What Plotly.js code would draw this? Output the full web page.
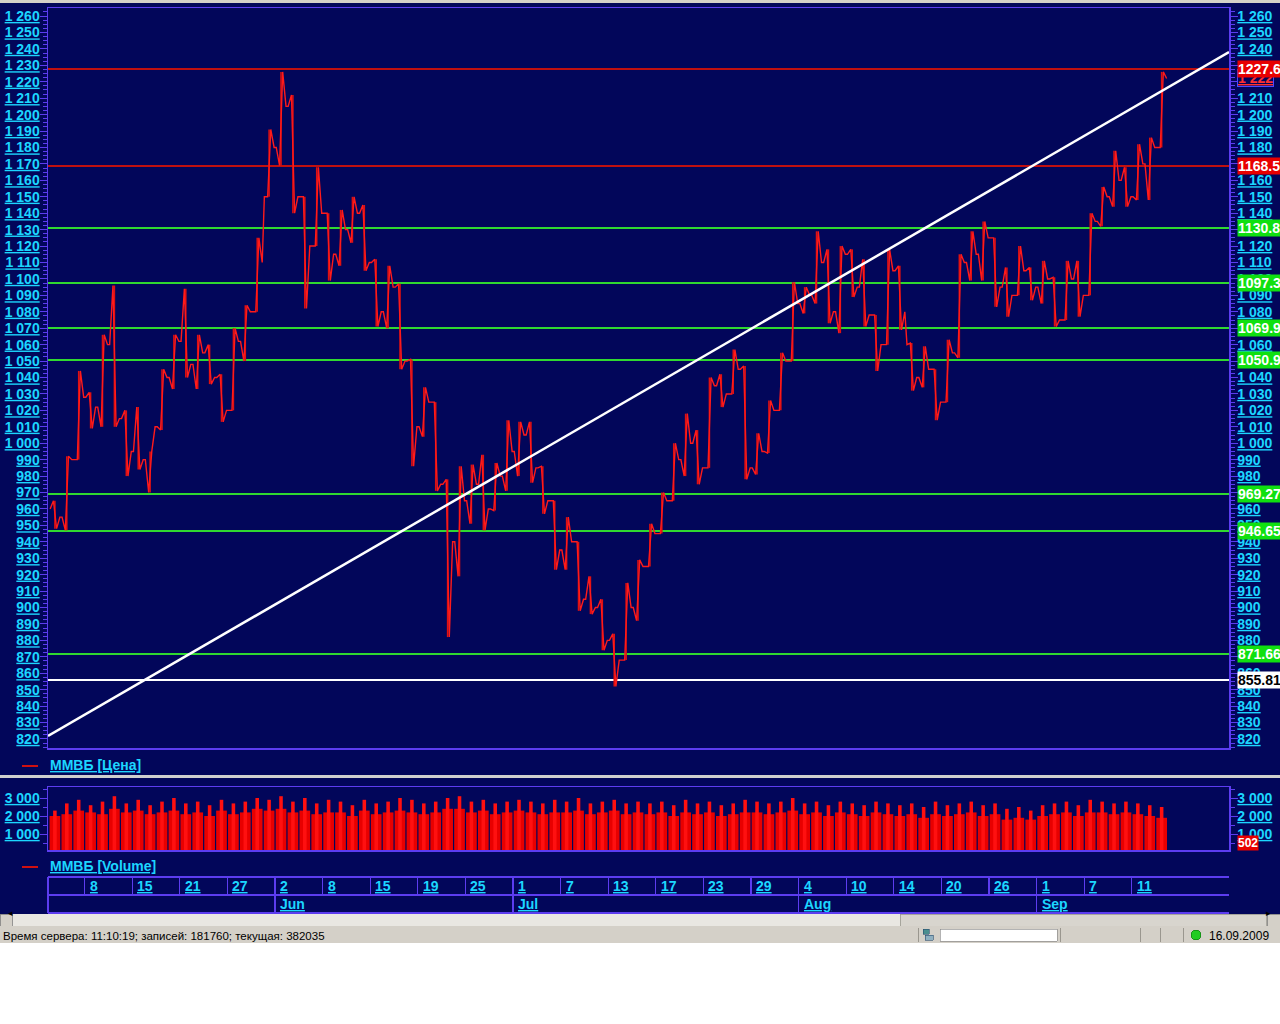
<!DOCTYPE html>
<html><head><meta charset="utf-8">
<script src="https://cdn.plot.ly/plotly-3.0.1.min.js"></script>
<style>html,body{margin:0;padding:0;background:#fff;overflow:hidden}#chart{width:1280px;height:1024px}
#chart .shapelayer path{shape-rendering:crispEdges}</style>
</head><body><div id="chart"></div>
<script>
// ---------------- DATA (trading-day index 0 = 5 May 2009) ----------------
const openP  = [960,955,990,1028,1022,1060,1015,995,990,1010,1040,1062,1048,1055,1040,1020,1062,1080,1150,1180,1205,1150,1120,1140,1115,1130,1140,1110,1080,1095,1050,1010,1025,975,940,965,975,960,980,995,1005,985,965,935,940,905,900,880,868,900,925,945,965,990,1000,985,1035,1030,1045,985,995,1020,1050,1085,1090,1110,1080,1115,1095,1078,1060,1105,1060,1040,1045,1025,1055,1110,1115,1125,1095,1090,1105,1095,1100,1075,1100,1090,1135,1150,1160,1150,1170,1180];
const highP  = [965,992,1044,1031,1066,1096,1020,1022,995,1045,1066,1094,1066,1060,1042,1070,1084,1125,1191,1226,1212,1150,1168,1140,1142,1150,1145,1112,1108,1097,1051,1034,1025,978,986,987,993,988,1014,1013,1013,986,965,955,940,919,905,884,915,929,951,970,1000,1018,1008,1040,1042,1057,1047,1006,1026,1055,1098,1095,1129,1118,1120,1118,1112,1078,1118,1108,1061,1059,1045,1063,1115,1129,1135,1125,1107,1120,1107,1111,1101,1111,1111,1140,1156,1178,1168,1182,1186,1226];
const lowP   = [948,947,990,1009,1010,1010,980,984,970,1008,1033,1040,1033,1036,1013,1020,1050,1080,1150,1169,1140,1082,1120,1099,1108,1122,1105,1071,1070,1045,986,1004,971,882,919,951,947,959,971,980,976,957,923,923,898,896,874,852,868,892,925,945,965,980,975,985,1022,1030,978,981,994,1020,1050,1079,1085,1073,1067,1089,1071,1044,1060,1069,1032,1034,1014,1025,1052,1099,1099,1083,1077,1090,1087,1085,1071,1075,1077,1090,1132,1144,1144,1148,1148,1180];
const closeP = [955,990,1028,1022,1060,1015,995,990,1010,1040,1062,1048,1055,1040,1020,1062,1080,1110,1180,1205,1150,1120,1140,1115,1130,1140,1110,1080,1095,1050,1010,1025,975,940,965,975,960,980,995,1005,985,965,935,940,905,900,880,868,900,925,945,965,990,1000,985,1035,1030,1045,985,995,1020,1050,1085,1090,1110,1080,1115,1095,1078,1060,1105,1080,1040,1045,1025,1055,1110,1115,1125,1095,1090,1105,1095,1100,1075,1100,1090,1135,1150,1160,1150,1170,1180,1222];
const volPeak = [2300,2700,2900,2600,2800,3100,2700,2900,2600,2800,3000,2700,2800,2600,2900,2700,2800,3000,2900,3100,2800,3000,2700,2900,2800,2600,2900,2700,2800,3000,2900,2700,2800,3000,3100,2800,2900,2700,2800,2900,2800,2700,2900,2800,3000,2700,2800,2900,2700,2800,2700,2800,2600,2900,2700,2800,2600,2700,2900,2800,2700,2800,3000,2700,2800,2600,2800,2700,2600,2800,2700,2600,2700,2500,2800,2600,2700,2800,2600,2700,2400,2500,2300,2600,2700,2800,2600,2900,2800,2700,2800,2700,2600,2500];
const volBase = [2000,2100,2300,2200,2100,2400,2200,2300,2100,2200,2300,2100,2200,2000,2300,2100,2200,2400,2300,2400,2200,2300,2100,2200,2200,2000,2300,2100,2200,2300,2200,2100,2200,2400,2400,2200,2300,2100,2200,2300,2200,2100,2200,2200,2300,2100,2200,2300,2100,2200,2100,2200,2000,2200,2100,2200,2000,2100,2200,2200,2100,2200,2300,2100,2200,2000,2200,2100,2000,2200,2100,2000,2100,1900,2100,2000,2100,2200,2000,2100,1800,1900,1800,2000,2100,2200,2000,2200,2200,2100,2200,2100,2000,1900];
const trendX = [-0.08, 99.16];
const trendY = [821.8, 1238.1];
const redLevels   = [1227.6, 1168.5];
const redLabels   = ["1227.6", "1168.5"];
const greenLevels = [1130.8, 1097.3, 1069.9, 1050.9, 969.27, 946.65, 871.66];
const greenLabels = ["1130.8", "1097.3", "1069.9", "1050.9", "969.27", "946.65", "871.66"];
const whiteLevels = [855.81];
const whiteLabels = ["855.81"];
const lastPrice = 1222, lastPriceLabel = "1 222";
const lastVolume = 502, lastVolumeLabel = "502";
const dayLabels   = ["8","15","21","27","2","8","15","19","25","1","7","13","17","23","29","4","10","14","20","26","1","7","11"];
const dayLabelIdx = [3,7,11,15,19,23,27,31,35,39,43,47,51,55,59,63,67,71,75,79,83,87,91];
const monthLabels = ["Jun","Jul","Aug","Sep"];
const monthIdx    = [19,39,63,83];
const priceTicks  = [820,830,840,850,860,870,880,890,900,910,920,930,940,950,960,970,980,990,1000,1010,1020,1030,1040,1050,1060,1070,1080,1090,1100,1110,1120,1130,1140,1150,1160,1170,1180,1190,1200,1210,1220,1230,1240,1250,1260];
const rightHiddenTicks = [1230,1220,1170,1130,1070,1050,970,870];   // covered by the value tags
const volTicks    = [1000,2000,3000];
const statusText  = "Время сервера: 11:10:19; записей: 181760; текущая: 382035";
const statusDate  = "16.09.2009";
const priceLegend = "ММВБ [Цена]";
const volLegend   = "ММВБ [Volume]";

// ---------------- STYLE ----------------
const NAVY = '#02065a', PURPLE = '#5c3cf0', CYAN = '#1cd6ff', RED = '#ff1a1a';
const FONT = 'Liberation Sans, Arial, sans-serif';
const H = 1024, L = 48, R = 1229, PW = R - L;
const xp = px => (px - L) / PW;
const yp = py => 1 - py / H;
const fmt = v => { const s = String(v); return s.length > 3 ? s.slice(0, s.length - 3) + ' ' + s.slice(-3) : s; };

// price zigzag built from the daily OHLC arrays
const px = [], py = [];
openP.forEach((o, i) => {
  const up = closeP[i] >= o;
  px.push(i + 0.1, i + 0.38, i + 0.64, i + 0.92);
  py.push(o, up ? lowP[i] : highP[i], up ? highP[i] : lowP[i], closeP[i]);
});
const dayX = openP.map((_, i) => i + 0.5);
const dayRange = highP.map((h, i) => h - lowP[i]);

const traces = [
  {x: dayX, y: volBase, type: 'bar', xaxis: 'x2', yaxis: 'y3', width: 0.9, marker: {color: '#e80000', line: {width: 0}}, hoverinfo: 'skip'},
  {x: dayX, y: volPeak, type: 'bar', xaxis: 'x2', yaxis: 'y3', width: 0.3, marker: {color: '#ff1010', line: {width: 0}}, hoverinfo: 'skip'},
  {x: [0, 99], y: [1000, 1000], xaxis: 'x2', yaxis: 'y4', mode: 'lines', line: {width: 0}, hoverinfo: 'skip'},
  {x: dayX, y: dayRange, base: lowP, type: 'bar', xaxis: 'x', yaxis: 'y', width: 0.13, marker: {color: '#e01010', line: {width: 0}}, hoverinfo: 'skip'},
  {x: px, y: py, type: 'scatter', mode: 'lines', xaxis: 'x', yaxis: 'y', line: {color: RED, width: 1.4}, hoverinfo: 'skip'},
  {x: trendX, y: trendY, type: 'scatter', mode: 'lines', xaxis: 'x', yaxis: 'y2', line: {color: '#ffffff', width: 2.5}, hoverinfo: 'skip'}
];

const tickFont = {family: FONT, size: 14, color: CYAN, weight: 700, lineposition: 'under'};
const priceAxis = (side, labels, extra) => Object.assign({
  range: [814.5, 1264.9], tickmode: 'array', tickvals: priceTicks, ticktext: labels,
  ticks: 'outside', ticklen: 7, tickcolor: PURPLE, tickwidth: 1, tickfont: tickFont, ticklabelstandoff: -3,
  minor: {tickmode: 'linear', tick0: 0, dtick: 2.5, ticks: 'outside', ticklen: 4, tickcolor: PURPLE, showgrid: false},
  showgrid: false, zeroline: false, showline: true, linecolor: PURPLE, linewidth: 1.5,
  side: side, automargin: false, domain: [yp(748), yp(8)], fixedrange: true
}, extra);
const volAxis = (side, extra) => Object.assign({
  range: [111, 3611], tickmode: 'array', tickvals: volTicks, ticktext: volTicks.map(fmt),
  ticks: 'outside', ticklen: 7, tickcolor: PURPLE, tickfont: tickFont, ticklabelstandoff: -3,
  minor: {tickmode: 'linear', tick0: 0, dtick: 500, ticks: 'outside', ticklen: 4, tickcolor: PURPLE},
  showgrid: false, zeroline: false, showline: true, linecolor: PURPLE, linewidth: 1.5,
  side: side, automargin: false, domain: [yp(850), yp(787)], fixedrange: true
}, extra);

const shapes = [];
const ann = [];
// level lines
redLevels.forEach(v => shapes.push({type: 'line', layer: 'below', xref: 'paper', yref: 'y', x0: 0, x1: 1, y0: v, y1: v, line: {color: '#c01010', width: 2}}));
greenLevels.forEach(v => shapes.push({type: 'line', layer: 'below', xref: 'paper', yref: 'y', x0: 0, x1: 1, y0: v, y1: v, line: {color: '#30d830', width: 2}}));
whiteLevels.forEach(v => shapes.push({type: 'line', layer: 'below', xref: 'paper', yref: 'y', x0: 0, x1: 1, y0: v, y1: v, line: {color: '#ffffff', width: 2.5}}));

// right-side tags
const tagX = xp(1237);
ann.push({xref: 'paper', yref: 'y', x: tagX, y: lastPrice, xanchor: 'left', yanchor: 'middle', text: lastPriceLabel, showarrow: false,
  font: {family: FONT, size: 14, color: '#ff3030', weight: 700, lineposition: 'under'}, bgcolor: NAVY, bordercolor: '#4848ff', borderwidth: 1, borderpad: 0});
const tag = (v, t, bg, fc) => ann.push({xref: 'paper', yref: 'y', x: tagX, y: v, xanchor: 'left', yanchor: 'middle', text: t, showarrow: false,
  font: {family: FONT, size: 14, color: fc, weight: 700}, bgcolor: bg, borderpad: 0});
redLevels.forEach((v, i) => tag(v, redLabels[i], '#e80000', '#ffffff'));
greenLevels.forEach((v, i) => tag(v, greenLabels[i], '#10e010', '#ffffff'));
whiteLevels.forEach((v, i) => tag(v, whiteLabels[i], '#ffffff', '#000000'));
ann.push({xref: 'paper', yref: 'y3', x: tagX, y: lastVolume, xanchor: 'left', yanchor: 'middle', text: lastVolumeLabel, showarrow: false,
  font: {family: FONT, size: 12, color: '#ffffff', weight: 700}, bgcolor: '#e80000', borderpad: 0});

// legends
const legend = (py0, text) => {
  shapes.push({type: 'line', xref: 'paper', yref: 'paper', x0: xp(22), x1: xp(38), y0: yp(py0 + 1), y1: yp(py0 + 1), line: {color: '#d01010', width: 1.5}});
  ann.push({xref: 'paper', yref: 'paper', x: 0, y: yp(py0), xanchor: 'left', yanchor: 'middle', text: text, showarrow: false,
    font: {family: FONT, size: 14, color: CYAN, weight: 700, lineposition: 'under'}});
};
legend(765, priceLegend);
legend(866, volLegend);

// separator bar between panels
shapes.push({type: 'rect', xref: 'paper', yref: 'paper', x0: xp(0), x1: xp(1280), y0: yp(777.5), y1: yp(774.5), fillcolor: '#cfcfcf', line: {width: 0}});
// top strip
shapes.push({type: 'rect', xref: 'paper', yref: 'paper', x0: xp(0), x1: xp(1280), y0: yp(3), y1: yp(0), fillcolor: '#d4d0c8', line: {width: 0}});

// date table
const tl = (x0, x1, y0, y1, xref) => shapes.push({type: 'line', xref: xref || 'paper', yref: 'paper', x0: x0, x1: x1, y0: yp(y0), y1: yp(y1), line: {color: PURPLE, width: 1.2}});
tl(0, 1, 877, 877); tl(0, 1, 895, 895); tl(0, 1, 913, 913);
tl(0, 0, 877, 913);
dayLabelIdx.forEach((d, i) => {
  tl(d, d, 877, 895, 'x');
  ann.push({xref: 'x', yref: 'paper', x: d, xshift: 3, y: yp(886), xanchor: 'left', yanchor: 'middle', text: dayLabels[i], showarrow: false,
    font: {family: FONT, size: 14, color: CYAN, weight: 700, lineposition: 'under'}});
});
monthIdx.forEach((d, i) => {
  tl(d, d, 895, 913, 'x');
  ann.push({xref: 'x', yref: 'paper', x: d, xshift: 3, y: yp(904), xanchor: 'left', yanchor: 'middle', text: monthLabels[i], showarrow: false,
    font: {family: FONT, size: 14, color: CYAN, weight: 700, lineposition: 'under'}});
});

// scrollbar
const rect = (x0, x1, y0, y1, fill, lc, lw) => shapes.push({type: 'rect', xref: 'paper', yref: 'paper', x0: xp(x0), x1: xp(x1), y0: yp(y1), y1: yp(y0), fillcolor: fill, line: {color: lc || fill, width: lw || 0}});
rect(0, 1280, 913.5, 1024, '#ffffff');
rect(0, 1280, 914, 926, '#e9e7e2');
rect(900, 1266, 914, 926, '#d8d5ce', '#9a9890', 0.8);
rect(0, 12, 914, 926, '#d4d0c8', '#808080', 0.8);
rect(1267, 1280, 914, 926, '#d4d0c8', '#808080', 0.8);
ann.push({xref: 'paper', yref: 'paper', x: xp(6), y: yp(920), text: '◂', showarrow: false, font: {size: 9, color: '#000'}});
ann.push({xref: 'paper', yref: 'paper', x: xp(1273), y: yp(920), text: '▸', showarrow: false, font: {size: 9, color: '#000'}});
// status bar
rect(0, 1280, 926, 943, '#d4d0c8');
rect(940, 1057, 929, 941, '#ffffff', '#808080', 0.6);
[918, 1060, 1140, 1160, 1183].forEach(x => shapes.push({type: 'line', xref: 'paper', yref: 'paper', x0: xp(x), x1: xp(x), y0: yp(928), y1: yp(942), line: {color: '#9a978f', width: 1}}));
rect(923, 929, 929, 934, '#4a8f8f', '#2a4f6f', 0.6);
rect(925, 933, 935, 940, '#8fb0c0', '#2a4f6f', 0.6);
shapes.push({type: 'circle', xref: 'paper', yref: 'paper', x0: xp(1191), x1: xp(1201), y0: yp(940), y1: yp(930), fillcolor: '#22cc22', line: {color: '#118811', width: 0.8}});
ann.push({xref: 'paper', yref: 'paper', x: xp(1), y: yp(935.5), xanchor: 'left', yanchor: 'middle', text: statusText, showarrow: false, font: {family: FONT, size: 11.5, color: '#000000'}});
ann.push({xref: 'paper', yref: 'paper', x: xp(1207), y: yp(935.5), xanchor: 'left', yanchor: 'middle', text: statusDate, showarrow: false, font: {family: FONT, size: 12, color: '#000000'}});

const leftLabels = priceTicks.map(fmt);
const rightLabels = priceTicks.map(v => rightHiddenTicks.includes(v) ? '' : fmt(v));

const layout = {
  width: 1280, height: 1024, margin: {l: 48, r: 51, t: 0, b: 0, pad: 0},
  paper_bgcolor: NAVY, plot_bgcolor: NAVY, showlegend: false, barmode: 'overlay',
  font: {family: FONT},
  xaxis: {domain: [0, 1], range: [-0.08, 99.16], anchor: 'y', showticklabels: false, ticks: '', showgrid: false, zeroline: false,
          showline: true, linecolor: PURPLE, linewidth: 1.5, mirror: true, fixedrange: true},
  xaxis2: {domain: [0, 1], range: [-0.08, 99.16], anchor: 'y3', showticklabels: false, ticks: '', showgrid: false, zeroline: false,
          showline: true, linecolor: PURPLE, linewidth: 1.5, mirror: true, fixedrange: true},
  yaxis: priceAxis('left', leftLabels, {anchor: 'x'}),
  yaxis2: priceAxis('right', rightLabels, {anchor: 'x', overlaying: 'y'}),
  yaxis3: volAxis('left', {anchor: 'x2'}),
  yaxis4: volAxis('right', {anchor: 'x2', overlaying: 'y3'}),
  shapes: shapes, annotations: ann
};
Plotly.newPlot('chart', traces, layout, {displayModeBar: false, staticPlot: true});
</script>
</body></html>
